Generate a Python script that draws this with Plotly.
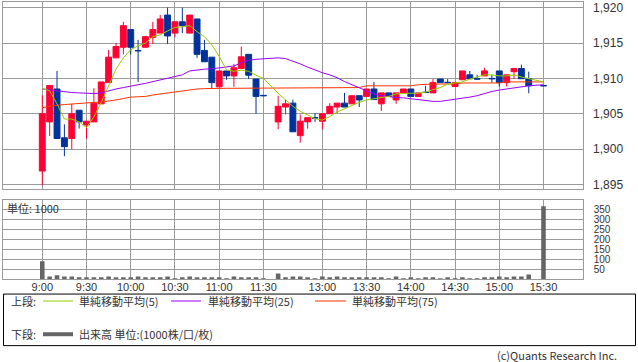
import plotly.graph_objects as go

# ---------------- data ----------------
slot_times = [
    "9:00", "9:05", "9:10", "9:15", "9:20", "9:25", "9:30", "9:35", "9:40", "9:45",
    "9:50", "9:55", "10:00", "10:05", "10:10", "10:15", "10:20", "10:25", "10:30", "10:35",
    "10:40", "10:45", "10:50", "10:55", "11:00", "11:05", "11:10", "11:15", "11:20", "11:25",
    "11:30", "", "12:30", "12:35", "12:40", "12:45", "12:50", "12:55", "13:00", "13:05",
    "13:10", "13:15", "13:20", "13:25", "13:30", "13:35", "13:40", "13:45", "13:50", "13:55",
    "14:00", "14:05", "14:10", "14:15", "14:20", "14:25", "14:30", "14:35", "14:40", "14:45",
    "14:50", "14:55", "15:00", "15:05", "15:10", "15:15", "15:20", "15:25", "15:30",
]
tick_labels = ["9:00", "9:30", "10:00", "10:30", "11:00", "11:30",
               "13:00", "13:30", "14:00", "14:30", "15:00", "15:30"]

N = None
open_ = [1896.9, 1903.85, 1908.5, 1901.6, 1901.5, 1905.5, 1903.4, 1903.85, 1906.4, 1909.4,
         1912.9, 1914.4, 1916.9, 1913.95, 1914.4, 1915.8, 1916.4, 1918.95, 1916.4, 1918.0,
         1916.4, 1918.4, 1913.95, 1913.0, 1908.8, 1911.05, 1910.35, 1911.4, 1913.4, 1909.9,
         1907.6, N, 1903.85, 1905.95, 1906.5, 1901.9, 1903.85, 1904.45, 1903.95, 1905.0,
         1905.95, 1906.5, 1906.4, 1907.55, 1907.45, 1908.5, 1906.4, 1907.95, 1906.95, 1907.95,
         1908.5, 1907.45, 1908.05, 1907.95, 1909.9, 1909.45, 1908.85, 1909.8, 1910.5, 1909.95,
         1910.35, 1910.0, 1911.05, 1909.4, 1910.95, 1911.4, 1909.95, N, 1909.0]
high = [1907.6, 1909.0, 1911.05, 1903.5, 1906.4, 1905.5, 1903.95, 1908.6, 1909.5, 1914.0,
        1915.0, 1918.0, 1916.9, 1915.45, 1915.9, 1918.0, 1918.95, 1920.0, 1918.0, 1920.0,
        1918.95, 1918.4, 1915.45, 1913.0, 1911.05, 1911.05, 1912.05, 1914.5, 1913.4, 1909.9,
        1907.6, N, 1907.55, 1906.95, 1907.0, 1904.9, 1904.45, 1905.1, 1905.0, 1906.5,
        1906.5, 1907.95, 1907.55, 1907.55, 1908.5, 1909.5, 1907.95, 1907.95, 1907.95, 1908.5,
        1908.5, 1907.95, 1908.95, 1909.9, 1909.9, 1909.9, 1909.4, 1911.05, 1911.05, 1910.5,
        1911.5, 1910.5, 1911.05, 1910.5, 1911.4, 1911.95, 1910.95, N, 1909.0]
low = [1894.9, 1901.85, 1901.5, 1899.0, 1900.0, 1902.9, 1901.45, 1903.85, 1906.4, 1909.4,
       1912.9, 1913.4, 1913.4, 1909.5, 1914.4, 1914.85, 1916.4, 1914.85, 1915.8, 1916.4,
       1916.4, 1912.9, 1912.35, 1908.5, 1908.8, 1909.8, 1908.8, 1911.4, 1909.9, 1905.0,
       1907.55, N, 1902.8, 1904.9, 1902.45, 1900.9, 1902.9, 1903.85, 1902.8, 1905.0,
       1905.1, 1905.95, 1906.4, 1905.95, 1907.45, 1907.0, 1905.4, 1907.45, 1906.4, 1907.95,
       1907.45, 1907.45, 1907.95, 1907.95, 1909.4, 1909.4, 1908.85, 1909.8, 1909.95, 1909.9,
       1910.35, 1909.4, 1908.85, 1908.85, 1909.9, 1909.95, 1907.9, N, 1908.95]
close = [1905.0, 1909.0, 1901.5, 1900.35, 1905.0, 1903.85, 1903.95, 1906.5, 1909.5, 1913.0,
         1914.5, 1917.45, 1914.4, 1913.9, 1915.9, 1916.9, 1918.4, 1916.0, 1918.0, 1917.45,
         1918.95, 1913.4, 1912.35, 1909.4, 1911.05, 1910.35, 1911.5, 1913.05, 1910.45, 1907.45,
         1907.55, N, 1906.05, 1906.4, 1902.45, 1903.95, 1904.45, 1904.4, 1905.0, 1906.05,
         1906.5, 1905.95, 1907.55, 1906.95, 1908.5, 1907.0, 1907.95, 1907.45, 1907.95, 1908.5,
         1907.45, 1907.95, 1908.0, 1909.4, 1909.4, 1909.4, 1909.4, 1911.05, 1909.95, 1909.9,
         1911.05, 1909.95, 1909.4, 1910.5, 1911.4, 1909.95, 1908.95, N, 1908.95]

ma5 = [1908.6, 1908.25, 1906.4, 1904.25, 1904.25, 1903.85, 1903.05, 1904.55, 1906.6, 1908.95,
       1911.3, 1912.9, 1914.05, 1914.6, 1915.0, 1915.9, 1916.15, 1916.7, 1917.2, 1917.3,
       1917.45, 1916.6, 1915.9, 1914.75, 1913.1, 1911.2, 1911.0, 1911.15, 1911.0, 1910.45,
       1910.0, N, 1907.9, 1907.0, 1906.05, 1905.35, 1904.8, 1904.3, 1904.1, 1904.6,
       1905.25, 1905.7, 1906.25, 1906.6, 1906.95, 1907.1, 1907.3, 1907.45, 1907.8, 1907.9,
       1907.9, 1907.9, 1908.05, 1908.4, 1908.7, 1909.2, 1909.4, 1909.5, 1909.9, 1910.2,
       1910.5, 1910.5, 1910.35, 1910.35, 1910.5, 1910.2, 1909.95, N, 1909.5]
ma25 = [1908.5, 1908.35, 1908.25, 1908.15, 1908.0, 1907.95, 1907.85, 1907.85, 1907.95, 1908.25,
        1908.5, 1908.7, 1908.85, 1909.1, 1909.3, 1909.55, 1909.8, 1910.0, 1910.2, 1910.5,
        1911.05, 1911.2, 1911.3, 1911.35, 1911.5, 1911.6, 1911.75, 1912.2, 1912.55, 1912.7,
        1912.8, N, 1912.9, 1912.8, 1912.45, 1912.05, 1911.6, 1911.15, 1910.8, 1910.5,
        1910.1, 1909.55, 1909.1, 1908.65, 1908.25, 1907.8, 1907.55, 1907.4, 1907.3, 1907.25,
        1907.1, 1907.0, 1906.8, 1906.75, 1906.75, 1906.9, 1907.0, 1907.1, 1907.35, 1907.55,
        1907.9, 1908.15, 1908.35, 1908.5, 1908.7, 1908.85, 1908.95, N, 1909.1]
ma75 = [1905.85, 1906.05, 1906.2, 1906.3, 1906.4, 1906.5, 1906.55, 1906.6, 1906.65, 1906.75,
        1906.95, 1907.15, 1907.35, 1907.4, 1907.45, 1907.65, 1907.8, 1907.95, 1908.1, 1908.25,
        1908.35, 1908.5, 1908.55, 1908.6, 1908.6, 1908.6, 1908.6, 1908.6, 1908.6, 1908.6,
        1908.6, N, 1908.6, 1908.6, 1908.6, 1908.6, 1908.6, 1908.6, 1908.6, 1908.6,
        1908.6, 1908.7, 1908.7, 1908.7, 1908.95, 1908.95, 1908.95, 1908.95, 1908.95, 1908.95,
        1908.95, 1909.1, 1909.2, 1909.2, 1909.2, 1909.2, 1909.2, 1909.35, 1909.35, 1909.35,
        1909.35, 1909.35, 1909.35, 1909.5, 1909.5, 1909.5, 1909.5, N, 1909.5]
volume = [90, 13, 20, 13, 13, 8, 8, 8, 8, 13,
          8, 8, 8, 13, 8, 8, 8, 13, 3, 8,
          13, 8, 8, 8, 8, 3, 13, 8, 8, 8,
          3, N, 28, 8, 13, 13, 8, 3, 13, 8,
          13, 8, 8, 8, 8, 8, 8, 3, 13, 3,
          8, 3, 8, 8, 3, 8, 3, 8, 3, 3,
          8, 8, 13, 8, 13, 13, 23, N, 365]

price_ticks = [1895, 1900, 1905, 1910, 1915, 1920]
volume_ticks = [50, 100, 150, 200, 250, 300, 350]

# ---------------- styling ----------------
W, H = 638, 362
RED, BLUE = "#ff0033", "#003399"
C_MA5, C_MA25, C_MA75 = "#99cc00", "#9900ff", "#ff3300"
GRID = "#9a9a9a"
TXT = "#333333"
JP = "Noto Sans CJK JP"
LAT = "Liberation Sans"


def px(x):
    return x / W


def py(y):
    return 1 - y / H


xs = list(range(len(slot_times)))
idx = [i for i in xs if open_[i] is not None]
tickvals = [slot_times.index(t) for t in tick_labels]
XR = [-5.33, 73.32]

fig = go.Figure()
fig.add_trace(go.Candlestick(
    x=idx,
    open=[open_[i] for i in idx], high=[high[i] for i in idx],
    low=[low[i] for i in idx], close=[close[i] for i in idx],
    increasing=dict(line=dict(color=RED, width=1), fillcolor=RED),
    decreasing=dict(line=dict(color=BLUE, width=1), fillcolor=BLUE),
    whiskerwidth=0, showlegend=False, hoverinfo="skip",
    xaxis="x", yaxis="y"))
for ma, col in ((ma75, C_MA75), (ma25, C_MA25), (ma5, C_MA5)):
    fig.add_trace(go.Scatter(x=xs, y=ma, mode="lines", connectgaps=True,
                             line=dict(color=col, width=1), showlegend=False,
                             hoverinfo="skip", xaxis="x", yaxis="y"))
fig.add_trace(go.Bar(x=idx, y=[volume[i] for i in idx], width=0.62,
                     marker=dict(color="#666666", line=dict(width=0)),
                     showlegend=False, hoverinfo="skip", xaxis="x2", yaxis="y2"))

axis_common = dict(showgrid=True, gridcolor=GRID, gridwidth=1, zeroline=False,
                   showline=True, mirror=True, linecolor=GRID, linewidth=1,
                   ticks="", fixedrange=True)

fig.update_layout(
    width=W, height=H, margin=dict(l=0, r=0, t=0, b=0),
    paper_bgcolor="white", plot_bgcolor="white",
    showlegend=False, boxgap=0.2, boxgroupgap=0,
    xaxis=dict(domain=[px(3), px(582.7)], range=XR, anchor="y",
               tickvals=tickvals, showticklabels=False,
               rangeslider=dict(visible=False), **axis_common),
    yaxis=dict(domain=[py(190), py(1)], range=[1894.3, 1920.8], anchor="x",
               side="right", tickvals=price_ticks, tickformat=",d",
               ticklabelstandoff=7, ticklabeloverflow="allow",
               tickfont=dict(family=LAT, size=12, color=TXT), **axis_common),
    xaxis2=dict(domain=[px(3), px(582.7)], range=XR, anchor="y2",
                tickvals=tickvals, ticktext=tick_labels, ticklabelstandoff=-2,
                ticklabeloverflow="allow",
                tickfont=dict(family=LAT, size=11, color=TXT), **axis_common),
    yaxis2=dict(domain=[py(280.5), py(201)], range=[0, 395], anchor="x2",
                side="right", tickvals=volume_ticks, ticklabelstandoff=8,
                ticklabeloverflow="allow",
                tickfont=dict(family=LAT, size=10, color=TXT), **axis_common),
)

# ---------------- annotations / legend box ----------------
ann = []
shapes = []


def text(x, y, s, size=11, anchor="left", family=JP):
    ann.append(dict(x=px(x), y=py(y), xref="paper", yref="paper", text=s,
                    showarrow=False, xanchor=anchor, yanchor="middle",
                    borderpad=0,
                    font=dict(family=family, size=size, color=TXT)))


def hline(x0, x1, y, color, width=1):
    shapes.append(dict(type="line", xref="paper", yref="paper",
                       x0=px(x0), x1=px(x1), y0=py(y), y1=py(y),
                       line=dict(color=color, width=width)))


text(6, 209, "単位: 1000", size=11)

shapes.append(dict(type="rect", xref="paper", yref="paper",
                   x0=px(3.5), x1=px(635.5), y0=py(347.5), y1=py(295.5),
                   line=dict(color="#000000", width=1)))
text(10, 303, "上段:")
hline(43, 73, 302.5, C_MA5)
text(78, 303, "単純移動平均(5)")
hline(171, 201, 302.5, C_MA25)
text(207, 303, "単純移動平均(25)")
hline(315, 346, 302.5, C_MA75)
text(351, 303, "単純移動平均(75)")
text(10, 336, "下段:")
hline(43, 73, 336, "#666666", width=4)
text(78, 336, "出来高 単位:(1000株/口/枚)")
text(618, 357, "(c)Quants Research Inc.", anchor="right")

fig.update_layout(annotations=ann, shapes=shapes)
fig.write_html("out.html")
